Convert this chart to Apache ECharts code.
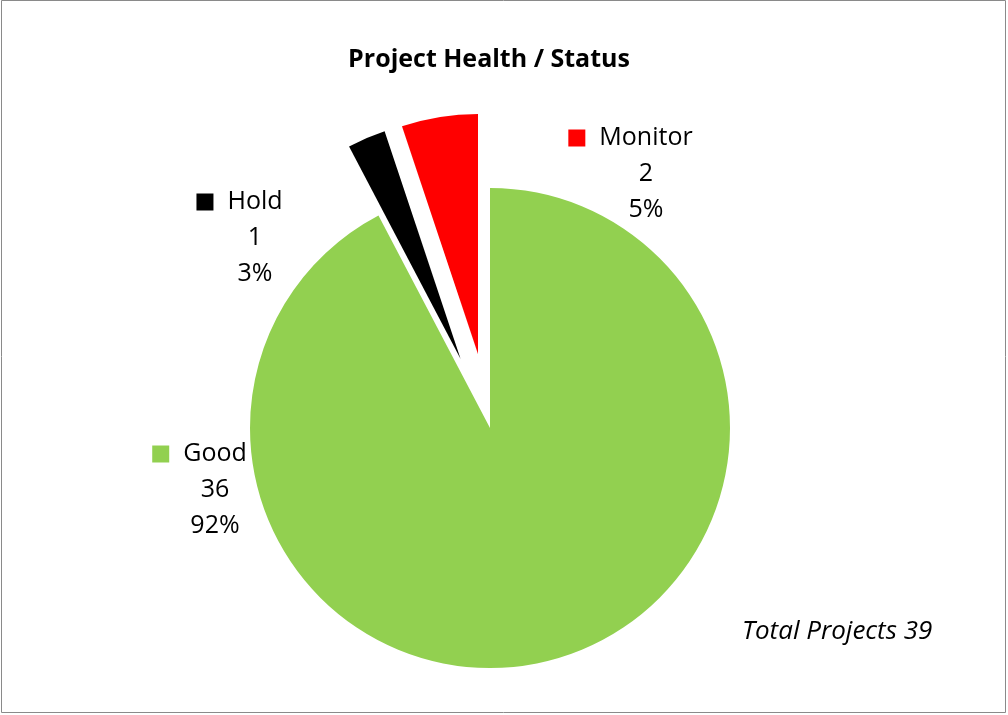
<!DOCTYPE html>
<html>
<head>
<meta charset="utf-8">
<script src="https://cdn.jsdelivr.net/npm/echarts@6/dist/echarts.min.js"></script>
<style>
  html, body { margin: 0; padding: 0; background: #fff; }
  #main { width: 1008px; height: 715px; }
</style>
</head>
<body>
<div id="main"></div>
<script>
// chart data
var statusNames = ['Good', 'Hold', 'Monitor'];
var statusCounts = [36, 1, 2];
var statusColors = ['#92D050', '#000000', '#FF0000'];
var explodedNames = ['Hold', 'Monitor'];
var totalProjects = 39;

var myChart = echarts.init(document.getElementById('main'));

var cx = 490, cy = 428;
// label block centres, relative to pie centre
var labelOffsets = {
    Good: [-275, 62],
    Hold: [-235, -190],
    Monitor: [156, -254]
};

var total = statusCounts.reduce(function (a, b) { return a + b; }, 0);

// visible slices, Hold and Monitor pulled out
var sliceData = statusNames.map(function (n, i) {
    return {
        name: n,
        value: statusCounts[i],
        selected: explodedNames.indexOf(n) >= 0,
        itemStyle: { color: statusColors[i] }
    };
});

// same values again, transparent, only for carrying the labels
var labelData = statusNames.map(function (n, i) {
    return {
        name: n,
        value: statusCounts[i],
        label: {
            rich: {
                sq: { width: 17, height: 17, backgroundColor: statusColors[i] }
            }
        }
    };
});

var option = {
    animation: false,
    backgroundColor: '#fff',
    graphic: [
        {
            type: 'rect',
            shape: { x: 1.5, y: 0.5, width: 1004, height: 712 },
            style: { fill: 'none', stroke: '#8a8a8a', lineWidth: 1 },
            silent: true
        },
        {
            type: 'text',
            x: 489,
            y: 60,
            style: {
                text: 'Project Health / Status',
                font: 'bold 25px "Open Sans"',
                fill: '#000',
                align: 'center',
                verticalAlign: 'middle'
            }
        },
        {
            type: 'text',
            x: 742,
            y: 632,
            style: {
                text: 'Total Projects ' + totalProjects,
                font: 'italic 26px "Open Sans"',
                fill: '#000',
                align: 'left',
                verticalAlign: 'middle'
            }
        }
    ],
    series: [
        {
            name: 'status',
            type: 'pie',
            center: [cx, cy],
            radius: 240,
            startAngle: 90,
            clockwise: true,
            selectedMode: 'multiple',
            selectedOffset: 75,
            emphasis: { disabled: true },
            label: { show: false },
            labelLine: { show: false },
            data: sliceData
        },
        {
            name: 'labels',
            type: 'pie',
            center: [cx, cy],
            radius: 240,
            startAngle: 90,
            clockwise: true,
            silent: true,
            avoidLabelOverlap: false,
            itemStyle: { color: 'rgba(0,0,0,0)' },
            emphasis: { disabled: true },
            label: {
                show: true,
                position: 'outside',
                fontFamily: 'Open Sans',
                fontSize: 25,
                lineHeight: 36,
                color: '#000',
                align: 'center',
                formatter: function (p) {
                    var pct = Math.round(p.value / total * 100);
                    return '{sq|}{gap|}' + p.name + '{pad|}\n' + p.value + '\n' + pct + '%';
                },
                rich: {
                    gap: { width: 14 },
                    pad: { width: 31 }
                }
            },
            labelLine: { show: false },
            labelLayout: function (params) {
                var off = labelOffsets[statusNames[params.dataIndex]];
                return {
                    x: cx + off[0],
                    y: cy + off[1],
                    align: 'center',
                    verticalAlign: 'middle'
                };
            },
            data: labelData
        }
    ]
};

myChart.setOption(option);
</script>
</body>
</html>
